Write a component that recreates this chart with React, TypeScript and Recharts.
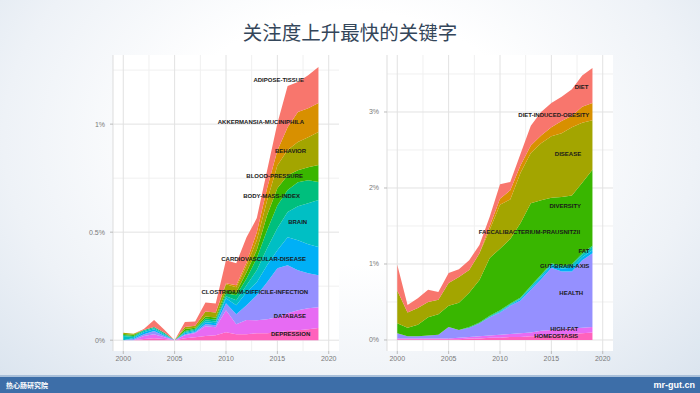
import { AreaChart, Area, XAxis, YAxis, CartesianGrid, ReferenceDot } from 'recharts';

const years = [2000, 2001, 2002, 2003, 2004, 2005, 2006, 2007, 2008, 2009, 2010, 2011, 2012, 2013, 2014, 2015, 2016, 2017, 2018, 2019];

// left panel, share of papers in %
const adiposeTissue = [0, 0, 0.005, 0.032, 0.014, 0, 0.023, 0.019, 0.042, 0.042, 0.106, 0.102, 0.116, 0.065, 0.083, 0.125, 0.19, 0.139, 0.153, 0.167];
const akkermansia = [0, 0, 0, 0, 0, 0, 0, 0, 0, 0, 0.005, 0.009, 0.014, 0.037, 0.056, 0.069, 0.106, 0.139, 0.134, 0.134];
const behavior = [0.005, 0.005, 0, 0, 0, 0, 0.009, 0.009, 0.023, 0.023, 0.028, 0.023, 0.032, 0.046, 0.069, 0.106, 0.116, 0.13, 0.139, 0.153];
const bloodPressure = [0.005, 0.005, 0, 0, 0, 0, 0.009, 0.005, 0.009, 0.009, 0.014, 0.014, 0.028, 0.037, 0.069, 0.079, 0.069, 0.056, 0.06, 0.079];
const bodyMassIndex = [0.005, 0.005, 0.005, 0.005, 0.005, 0, 0.005, 0.005, 0.009, 0.009, 0.014, 0.023, 0.032, 0.056, 0.083, 0.106, 0.102, 0.111, 0.106, 0.083];
const brain = [0.019, 0.005, 0.005, 0.005, 0.005, 0, 0.005, 0.005, 0.009, 0.009, 0.009, 0.023, 0.032, 0.056, 0.079, 0.102, 0.116, 0.157, 0.19, 0.218];
const cardiovascular = [0, 0.005, 0.009, 0.009, 0.005, 0, 0.005, 0.005, 0.009, 0.009, 0.023, 0.042, 0.06, 0.06, 0.079, 0.083, 0.13, 0.139, 0.134, 0.13];
const clostridium = [0, 0.005, 0.009, 0.014, 0.005, 0, 0.005, 0.005, 0.009, 0.009, 0.032, 0.046, 0.069, 0.116, 0.171, 0.227, 0.222, 0.185, 0.162, 0.148];
const database = [0, 0, 0.014, 0.019, 0.009, 0, 0.014, 0.019, 0.046, 0.037, 0.102, 0.046, 0.065, 0.06, 0.065, 0.069, 0.083, 0.093, 0.097, 0.097];
const depression = [0, 0, 0.005, 0.009, 0.005, 0, 0.009, 0.014, 0.019, 0.023, 0.037, 0.028, 0.028, 0.032, 0.032, 0.037, 0.042, 0.046, 0.051, 0.056];

const leftNames = ['ADIPOSE-TISSUE', 'AKKERMANSIA-MUCINIPHILA', 'BEHAVIOR', 'BLOOD-PRESSURE', 'BODY-MASS-INDEX', 'BRAIN', 'CARDIOVASCULAR-DISEASE', 'CLOSTRIDIUM-DIFFICILE-INFECTION', 'DATABASE', 'DEPRESSION'];
const leftValues = [adiposeTissue, akkermansia, behavior, bloodPressure, bodyMassIndex, brain, cardiovascular, clostridium, database, depression];
const leftLabelX = [2017.6, 2017.6, 2017.8, 2017.5, 2017.2, 2017.9, 2017.8, 2018.0, 2017.8, 2018.2];
const leftLabelY = [1.204, 1.009, 0.875, 0.759, 0.667, 0.546, 0.375, 0.222, 0.111, 0.028];

// right panel
const diet = [0.34, 0.1, 0.13, 0.16, 0.1, 0.13, 0.1, 0.13, 0.11, 0.12, 0.19, 0.11, 0.15, 0.26, 0.31, 0.32, 0.32, 0.35, 0.41, 0.46];
const dietObesity = [0, 0, 0, 0, 0, 0, 0, 0, 0, 0.05, 0.08, 0.12, 0.1, 0.1, 0.1, 0.12, 0.16, 0.15, 0.21, 0.23];
const disease = [0.43, 0.2, 0.22, 0.2, 0.19, 0.3, 0.34, 0.3, 0.35, 0.37, 0.58, 0.52, 0.66, 0.66, 0.75, 0.81, 0.84, 0.9, 0.79, 0.65];
const diversity = [0.13, 0.11, 0.15, 0.24, 0.27, 0.28, 0.36, 0.45, 0.56, 0.76, 0.81, 0.85, 0.98, 1.09, 0.98, 0.86, 0.9, 0.9, 0.93, 1.0];
const faecalibacterium = [0, 0, 0, 0, 0, 0, 0, 0.01, 0.01, 0.01, 0.01, 0.01, 0.01, 0.01, 0.01, 0.01, 0.02, 0.02, 0.02, 0.02];
const fat = [0, 0, 0, 0, 0, 0, 0, 0, 0, 0.01, 0.01, 0.01, 0.01, 0.02, 0.02, 0.02, 0.02, 0.03, 0.03, 0.04];
const gutBrainAxis = [0, 0, 0, 0, 0, 0, 0, 0, 0, 0, 0.01, 0.01, 0.02, 0.02, 0.03, 0.03, 0.04, 0.05, 0.04, 0.04];
const health = [0.07, 0.03, 0.03, 0.04, 0.05, 0.15, 0.1, 0.12, 0.17, 0.24, 0.29, 0.37, 0.43, 0.56, 0.68, 0.82, 0.76, 0.75, 0.89, 0.97];
const highFat = [0.01, 0.01, 0.01, 0.01, 0.01, 0.01, 0.02, 0.02, 0.03, 0.03, 0.04, 0.04, 0.05, 0.05, 0.07, 0.07, 0.07, 0.07, 0.07, 0.07];
const homeostasis = [0.01, 0.01, 0.01, 0.01, 0.01, 0.01, 0.01, 0.02, 0.02, 0.03, 0.03, 0.04, 0.04, 0.05, 0.05, 0.06, 0.07, 0.08, 0.09, 0.1];

const rightNames = ['DIET', 'DIET-INDUCED-OBESITY', 'DISEASE', 'DIVERSITY', 'FAECALIBACTERIUM-PRAUSNITZII', 'FAT', 'GUT-BRAIN-AXIS', 'HEALTH', 'HIGH-FAT', 'HOMEOSTASIS'];
const rightValues = [diet, dietObesity, disease, diversity, faecalibacterium, fat, gutBrainAxis, health, highFat, homeostasis];
const rightLabelX = [2018.6, 2018.7, 2017.9, 2017.9, 2017.8, 2018.7, 2018.7, 2018.1, 2017.6, 2017.6];
const rightLabelY = [3.33, 2.96, 2.45, 1.76, 1.42, 1.17, 0.97, 0.62, 0.15, 0.055];

const xTicks = [2000, 2005, 2010, 2015, 2020];
const xMinor = [2002.5, 2007.5, 2012.5, 2017.5];

const palette = ['#F8766D', '#D89000', '#A3A500', '#39B600', '#00BF7D', '#00BFC4', '#00B0F6', '#9590FF', '#E76BF3', '#FF62BC'];

const toRows = (names: string[], values: number[][]) =>
  years.map((year, i) => {
    const row: Record<string, number> = { year };
    names.forEach((n, k) => {
      row[n] = values[k][i];
    });
    return row;
  });

type PanelProps = {
  names: string[];
  values: number[][];
  labelX: number[];
  labelY: number[];
  yDomain: [number, number];
  yTicks: number[];
  yMinor: number[];
  left: number;
};

const Panel = ({ names, values, labelX, labelY, yDomain, yTicks, yMinor, left }: PanelProps) => {
  const data = toRows(names, values);
  const order = names.map((n, k) => k).reverse();
  return (
    <div style={{ position: 'absolute', left, top: 55 }}>
      <AreaChart width={256} height={316} data={data} margin={{ top: 0, right: 0, bottom: 0, left: 0 }}>
        <CartesianGrid horizontalValues={yMinor} verticalValues={xMinor} stroke="#F0F0F0" fill="#ffffff" />
        <CartesianGrid horizontalValues={yTicks} verticalValues={xTicks} stroke="#E2E2E2" />
        <XAxis
          dataKey="year"
          type="number"
          domain={[1999, 2021]}
          ticks={xTicks}
          allowDataOverflow
          axisLine={false}
          tickLine={{ stroke: '#bbbbbb' }}
          tickSize={3}
          tickMargin={2}
          height={20}
          tick={{ fontSize: 7, fill: '#7a7a7a', fontFamily: 'Liberation Sans, Arial, sans-serif' }}
        />
        <YAxis
          type="number"
          domain={yDomain}
          ticks={yTicks}
          allowDataOverflow
          width={30}
          axisLine={{ stroke: '#dddddd' }}
          tickLine={{ stroke: '#bbbbbb' }}
          tickSize={3}
          tickMargin={5}
          tickFormatter={(v) => `${v}%`}
          tick={{ fontSize: 7, fill: '#7a7a7a', fontFamily: 'Liberation Sans, Arial, sans-serif' }}
        />
        {order.map((k) => (
          <Area
            key={names[k]}
            dataKey={names[k]}
            stackId="a"
            type="linear"
            stroke="none"
            fill={palette[k]}
            fillOpacity={1}
            isAnimationActive={false}
          />
        ))}
        {names.map((n, k) => (
          <ReferenceDot
            key={'lab' + n}
            x={labelX[k]}
            y={labelY[k]}
            r={0}
            fill="none"
            stroke="none"
            ifOverflow="visible"
            label={{
              value: n,
              position: 'left',
              offset: 0,
              fontSize: 6,
              fontWeight: 700,
              fill: '#1a1a1a',
              fontFamily: 'Liberation Sans, Arial, sans-serif',
            }}
          />
        ))}
      </AreaChart>
    </div>
  );
};

const App = () => {
  return (
    <div
      style={{
        position: 'absolute',
        left: 0,
        top: 0,
        width: 700,
        height: 393,
        overflow: 'hidden',
        background: 'radial-gradient(ellipse at 50% 35%, #ffffff 35%, #eef2f7 70%, #d9e3ee 100%)',
      }}
    >
      <div
        style={{
          position: 'absolute',
          top: 20,
          width: 700,
          textAlign: 'center',
          fontSize: 19.5,
          lineHeight: '24px',
          color: '#34465a',
          fontFamily: '"Noto Sans CJK SC", sans-serif',
        }}
      >
        关注度上升最快的关键字
      </div>
      <Panel
        names={leftNames}
        values={leftValues}
        labelX={leftLabelX}
        labelY={leftLabelY}
        yDomain={[-0.05, 1.32]}
        yTicks={[0, 0.5, 1]}
        yMinor={[0.25, 0.75, 1.25]}
        left={83}
      />
      <Panel
        names={rightNames}
        values={rightValues}
        labelX={rightLabelX}
        labelY={rightLabelY}
        yDomain={[-0.145, 3.75]}
        yTicks={[0, 1, 2, 3]}
        yMinor={[0.5, 1.5, 2.5, 3.5]}
        left={357}
      />
      <div style={{ position: 'absolute', top: 375, left: 0, width: 700, height: 2, background: '#a9c0da' }} />
      <div
        style={{
          position: 'absolute',
          top: 377,
          left: 0,
          width: 700,
          height: 16,
          background: '#3d6ea8',
          color: '#ffffff',
          fontFamily: '"Noto Sans CJK SC", sans-serif',
        }}
      >
        <span style={{ position: 'absolute', left: 6, top: 3, fontSize: 7, lineHeight: '10px', fontWeight: 700 }}>热心肠研究院</span>
        <span style={{ position: 'absolute', right: 5, top: 2, fontSize: 9, lineHeight: '12px', fontWeight: 700, fontFamily: 'Liberation Sans, Arial, sans-serif' }}>
          mr-gut.cn
        </span>
      </div>
    </div>
  );
};

export default App;
